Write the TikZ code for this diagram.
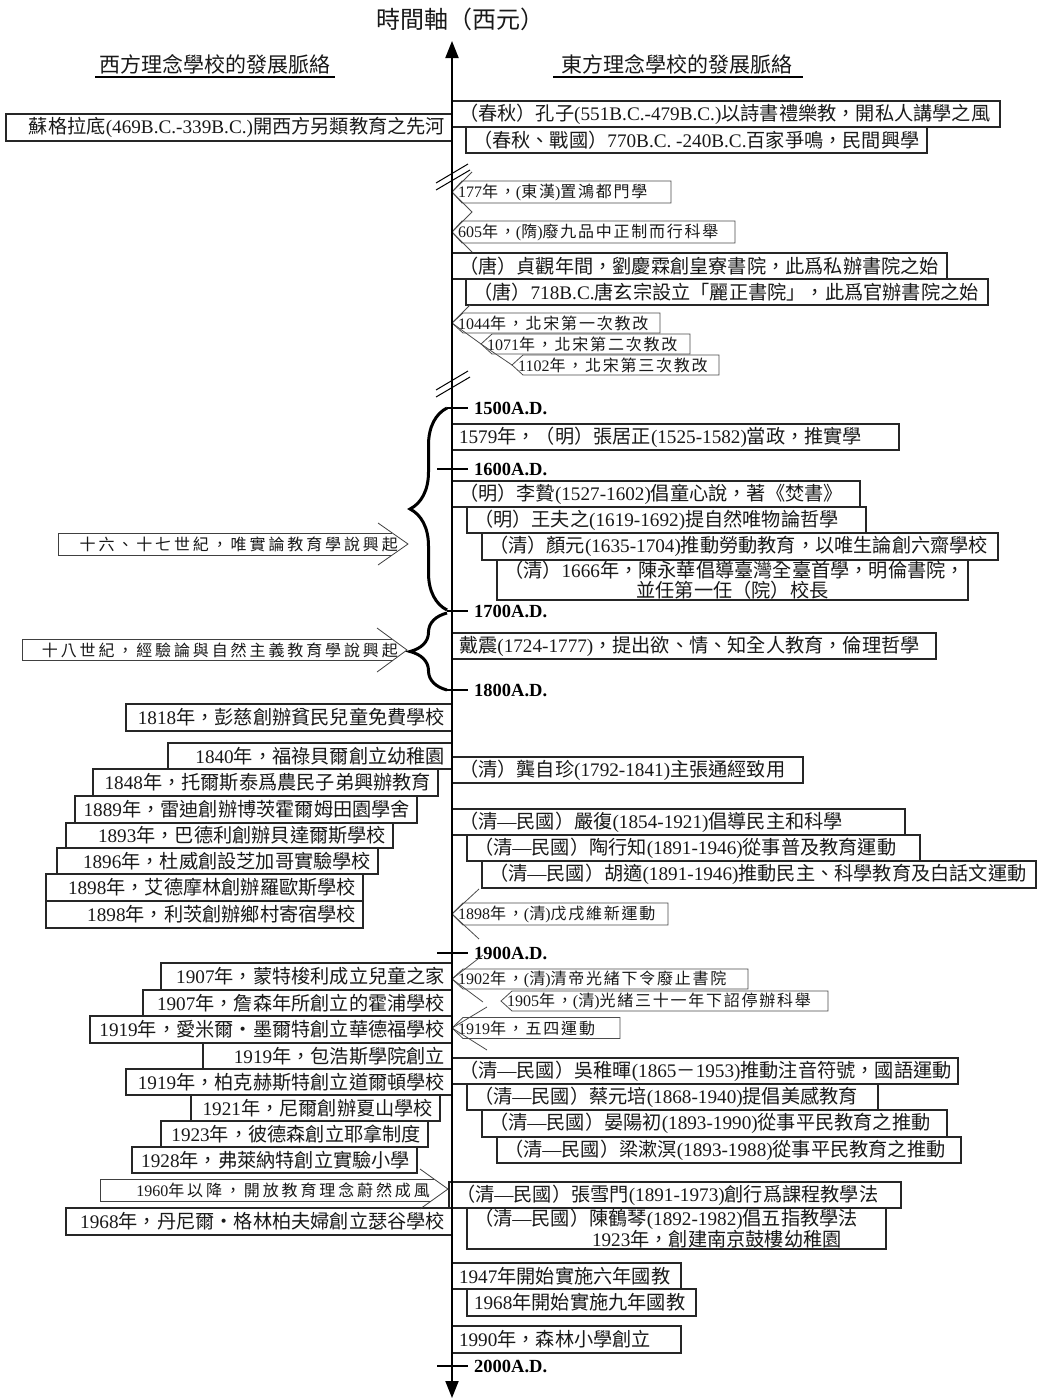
\documentclass[tikz,border=0pt]{standalone}
\usepackage{fontspec}
\setmainfont{Liberation Serif}
\newfontfamily\latA{Liberation Serif}
\newfontfamily\cjkA{Noto Sans CJK TC}
\newfontfamily\cjkB[LetterSpace=11]{Noto Sans CJK TC}
\newfontfamily\cjkC[LetterSpace=18]{Noto Sans CJK TC}
\usetikzlibrary{arrows.meta,decorations.pathreplacing,calc}

% --- automatic font switching between Latin and CJK ---
\newXeTeXintercharclass\CJKcls
\newcount\cjkc
\newcommand\setcjkrange[2]{\cjkc=#1\relax\loop\XeTeXcharclass\cjkc=\CJKcls\relax\ifnum\cjkc<#2\relax\advance\cjkc by 1\relax\repeat}
\setcjkrange{"3000}{"30FF}
\setcjkrange{"4E00}{"9FFF}
\setcjkrange{"FF00}{"FFEF}
\let\curcjk\cjkA
\let\curlat\latA
\XeTeXinterchartoks 0 \CJKcls = {\curcjk}
\XeTeXinterchartoks 4095 \CJKcls = {\curcjk}
\XeTeXinterchartoks \CJKcls 0 = {\curlat}
\XeTeXinterchartoks 4095 0 = {\curlat}
\XeTeXinterchartokenstate=1

\newcommand\mainfs{\fontsize{19.2}{21}\selectfont\let\curcjk\cjkA\let\curlat\latA\cjkA}
\newcommand\twofs{\fontsize{19.2}{19.5}\selectfont\let\curcjk\cjkA\let\curlat\latA\cjkA}
\newcommand\kaifs{\fontsize{16}{18}\selectfont\let\curcjk\cjkB\let\curlat\latA\cjkB}
\newcommand\arrfs{\fontsize{16}{18}\selectfont\let\curcjk\cjkC\let\curlat\latA\cjkC}
\newcommand\headfs{\fontsize{21}{25}\selectfont\cjkA}
\newcommand\titlefs{\fontsize{24}{27}\selectfont\cjkA}
\newcommand\centfs{\fontsize{18.5}{20}\selectfont\latA\bfseries}

\tikzset{
  mbox/.style={draw=black!85, line width=1.3pt, inner xsep=7pt, inner ysep=0pt, outer sep=0pt, font=\mainfs, text=black!90},
  tagtext/.style={inner sep=0pt, font=\kaifs, text=black!90},
  tagline/.style={draw=black!70, line width=0.8pt},
  arrline/.style={draw=black!75, line width=0.8pt},
  arrtext/.style={inner sep=0pt, font=\arrfs, text=black!90},
  tickline/.style={line width=1.4pt},
  century/.style={inner sep=0pt, anchor=west, font=\centfs},
  bracedeco/.style={line width=3pt, decorate, decoration={brace, amplitude=37pt}},
  axisline/.style={line width=2pt},
  heading/.style={font=\headfs, inner sep=0pt, text=black!90},
  breakline/.style={line width=1pt},
}

% name, x0, y0, x1, y1, text
\newcommand\Rbox[6]{\pgfmathsetmacro\boxw{#4-#2-14}\pgfmathsetmacro\boxh{#5-#3}%
  \node[mbox, minimum height=\boxh pt, anchor=north west] (#1) at (#2,#3) {\makebox[\boxw pt][l]{#6}};}
\newcommand\Lbox[6]{\pgfmathsetmacro\boxw{#4-#2-14}\pgfmathsetmacro\boxh{#5-#3}%
  \node[mbox, minimum height=\boxh pt, anchor=north west] (#1) at (#2,#3) {\makebox[\boxw pt][r]{#6}};}
% tag: name, px, py, x1, half height, corner dx, text
\newcommand\Tag[7]{%
  \coordinate (#1-p) at (#2,#3);
  \draw[tagline] (#4,#3-#5) -- (#2+#6,#3-#5) -- (#1-p) -- (#2+#6,#3+#5) -- (#4,#3+#5) -- cycle;
  \node[tagtext, anchor=west] (#1) at (#2+6,#3) {#7};}

\begin{document}
\begin{tikzpicture}[x=1pt,y=-1pt]
\fill[white] (0,0) rectangle (1038,1400);
\useasboundingbox (0,0) rectangle (1038,1400);

% title and headings
\node[font=\titlefs, inner sep=0pt, text=black!90] (title) at (460,19) {時間軸（西元）};
\node[heading] (hw) at (215,64) {西方理念學校的發展脈絡};
\node[heading] (he) at (677,64) {東方理念學校的發展脈絡};
\draw[line width=2.2pt] (95,77) -- (335,77);
\draw[line width=2.2pt] (553,77) -- (803,77);

% ---------- ancient ----------
\Lbox{socr}{6}{114}{452}{141}{蘇格拉底(469B.C.-339B.C.)開西方另類教育之先河}
\Rbox{r1}{452}{101}{1000}{127}{（春秋）孔子(551B.C.-479B.C.)以詩書禮樂教，開私人講學之風}
\Rbox{r2}{466}{127}{927}{153}{（春秋、戰國）770B.C. -240B.C.百家爭鳴，民間興學}

\draw[breakline] (436,183) -- (468,164);
\draw[breakline] (436,190) -- (470,170);

\Tag{t1}{452}{192}{671}{11}{10}{177年，(東漢)置鴻都門學}
\Tag{t2}{452}{232}{735}{11}{10}{605年，(隋)廢九品中正制而行科舉}
\draw[tagline] (t1-p) -- ++(20,-20);
\draw[tagline] (t1-p) -- ++(20,20) -- (t2-p) -- ++(20,20);

\Rbox{r3}{452}{253}{947}{279}{（唐）貞觀年間，劉慶霖創皇寮書院，此爲私辦書院之始}
\Rbox{r4}{466}{279}{988}{305}{（唐）718B.C.唐玄宗設立「麗正書院」，此爲官辦書院之始}

\Tag{t3}{452}{323}{660}{10}{11}{1044年，北宋第一次教改}
\Tag{t4}{481}{344}{690}{10}{11}{1071年，北宋第二次教改}
\Tag{t5}{512}{365}{719}{10}{11}{1102年，北宋第三次教改}
\draw[tagline] (t3-p) -- ++(18,-18);
\draw[tagline] (t3-p) -- (t4-p) -- (t5-p);

\draw[breakline] (436,390) -- (468,371);
\draw[breakline] (436,397) -- (470,377);

% ---------- 1500 - 1800 ----------
\coordinate (b1s) at (447,610);
\coordinate (b1e) at (447,408);
\coordinate (b2s) at (447,690);
\coordinate (b2e) at (447,613);
\draw[bracedeco] (b1s) -- (b1e);
\draw[bracedeco] (b2s) -- (b2e);

\draw[tickline] (447,408) -- (468,408);
\draw[tickline] (437,469) -- (468,469);
\draw[tickline] (447,611) -- (468,611);
\draw[tickline] (447,690) -- (468,690);
\node[century] (c1500) at (474,408) {1500A.D.};
\node[century] (c1600) at (474,469) {1600A.D.};
\node[century] (c1700) at (474,611) {1700A.D.};
\node[century] (c1800) at (474,690) {1800A.D.};

\Rbox{r5}{452}{424}{899}{450}{1579年，（明）張居正(1525-1582)當政，推實學}
\Rbox{r6}{452}{481}{860}{507}{（明）李贄(1527-1602)倡童心說，著《焚書》}
\Rbox{r7}{467}{507}{866}{533}{（明）王夫之(1619-1692)提自然唯物論哲學}
\Rbox{r8}{482}{533}{998}{560}{（清）顏元(1635-1704)推動勞動教育，以唯生論創六齋學校}
\node[mbox, anchor=north west, minimum height=40pt, text width=457pt, align=center, font=\twofs] (r9) at (497,560)
  {（清）1666年，陳永華倡導臺灣全臺首學，明倫書院，\\並任第一任（院）校長};
\Rbox{r10}{452}{633}{936}{659}{戴震(1724-1777)，提出欲、情、知全人教育，倫理哲學}

% big arrows
\coordinate (a1tip) at (408,544);
\draw[arrline] (392,533) -- (58,533) -- (58,555) -- (392,555);
\draw[arrline] (378,523) -- (a1tip) -- (378,565);
\node[arrtext, anchor=east] (a1) at (398,544) {十六、十七世紀，唯實論教育學說興起};
\coordinate (a2tip) at (407,650);
\draw[arrline] (392,639) -- (22,639) -- (22,660) -- (393,660);
\draw[arrline] (377,628) -- (a2tip) -- (377,672);
\node[arrtext, anchor=east] (a2) at (398,650) {十八世紀，經驗論與自然主義教育學說興起};

% ---------- 1800 - 1900 ----------
\Lbox{l1}{126}{704}{452}{731}{1818年，彭慈創辦貧民兒童免費學校}
\Lbox{l2}{168}{743}{452}{769}{1840年，福祿貝爾創立幼稚園}
\Lbox{l3}{93}{769}{438}{796}{1848年，托爾斯泰爲農民子弟興辦教育}
\Lbox{l4}{75}{796}{417}{823}{1889年，雷迪創辦博茨霍爾姆田園學舍}
\Lbox{l5}{66}{823}{393}{848}{1893年，巴德利創辦貝達爾斯學校}
\Lbox{l6}{57}{848}{378}{874}{1896年，杜威創設芝加哥實驗學校}
\Lbox{l7}{46}{874}{363}{901}{1898年，艾德摩林創辦羅歐斯學校}
\Lbox{l8}{46}{901}{363}{928}{1898年，利茨創辦鄉村寄宿學校}

\Rbox{r11}{452}{757}{803}{783}{（清）龔自珍(1792-1841)主張通經致用}
\Rbox{r12}{452}{809}{905}{835}{（清—民國）嚴復(1854-1921)倡導民主和科學}
\Rbox{r13}{467}{835}{920}{861}{（清—民國）陶行知(1891-1946)從事普及教育運動}
\Rbox{r14}{482}{861}{1036}{888}{（清—民國）胡適(1891-1946)推動民主、科學教育及白話文運動}

\Tag{t6}{452}{914}{668}{11}{11}{1898年，(清)戊戌維新運動}
\draw[tagline] (t6-p) -- ++(27,-25);
\draw[tagline] (t6-p) -- ++(27,25);

% ---------- 1900 - 2000 ----------
\draw[tickline] (437,953) -- (468,953);
\node[century] (c1900) at (474,953) {1900A.D.};

\Lbox{l9}{161}{963}{452}{990}{1907年，蒙特梭利成立兒童之家}
\Lbox{l10}{143}{990}{452}{1016}{1907年，詹森年所創立的霍浦學校}
\Lbox{l11}{90}{1016}{452}{1043}{1919年，愛米爾・墨爾特創立華德福學校}
\Lbox{l12}{203}{1043}{452}{1069}{1919年，包浩斯學院創立}
\Lbox{l13}{126}{1069}{452}{1095}{1919年，柏克赫斯特創立道爾頓學校}
\Lbox{l14}{191}{1095}{440}{1121}{1921年，尼爾創辦夏山學校}
\Lbox{l15}{161}{1121}{428}{1147}{1923年，彼德森創立耶拿制度}
\Lbox{l16}{132}{1147}{417}{1173}{1928年，弗萊納特創立實驗小學}
\Lbox{l17}{66}{1208}{452}{1235}{1968年，丹尼爾・格林柏夫婦創立瑟谷學校}

\coordinate (a3tip) at (448,1189);
\draw[arrline] (434,1179) -- (100,1179) -- (100,1201) -- (431,1201);
\draw[arrline] (420,1169) -- (a3tip) -- (420,1209);
\node[arrtext, anchor=east] (a3) at (430,1190) {1960年以降，開放教育理念蔚然成風};

\Tag{t7}{452}{979}{748}{10}{11}{1902年，(清)清帝光緒下令廢止書院}
\Tag{t8}{501}{1001}{828}{10}{11}{1905年，(清)光緒三十一年下詔停辦科舉}
\Tag{t9}{452}{1028}{620}{10.5}{11}{1919年，五四運動}
\draw[tagline] (t7-p) -- ++(31,-24);
\draw[tagline] (t7-p) -- ++(31,23);
\draw[tagline] (t9-p) -- ++(35,-21);
\draw[tagline] (t9-p) -- ++(35,22);

\Rbox{r15}{452}{1058}{958}{1084}{（清—民國）吳稚暉(1865－1953)推動注音符號，國語運動}
\Rbox{r16}{467}{1084}{878}{1110}{（清—民國）蔡元培(1868-1940)提倡美感教育}
\Rbox{r17}{482}{1110}{947}{1137}{（清—民國）晏陽初(1893-1990)從事平民教育之推動}
\Rbox{r18}{497}{1137}{961}{1163}{（清—民國）梁漱溟(1893-1988)從事平民教育之推動}
\Rbox{r19}{449}{1182}{901}{1208}{（清—民國）張雪門(1891-1973)創行爲課程教學法}
\node[mbox, anchor=north west, minimum height=41pt, text width=405pt, align=left, font=\twofs] (r20) at (467,1208)
  {（清—民國）陳鶴琴(1892-1982)倡五指教學法\\\hspace*{118pt}1923年，創建南京鼓樓幼稚園};
\Rbox{r21}{452}{1263}{681}{1289}{1947年開始實施六年國教}
\Rbox{r22}{467}{1289}{696}{1316}{1968年開始實施九年國教}
\Rbox{r23}{452}{1326}{681}{1353}{1990年，森林小學創立}

\draw[tickline] (437,1366) -- (468,1366);
\node[century] (c2000) at (474,1366) {2000A.D.};

% axis
\coordinate (axtop) at (452,41);
\coordinate (axbot) at (452,1398);
\draw[axisline, {Triangle[length=17pt,width=13pt]}-{Triangle[length=17pt,width=13pt]}] (axbot) -- (axtop);
\end{tikzpicture}
\end{document}
